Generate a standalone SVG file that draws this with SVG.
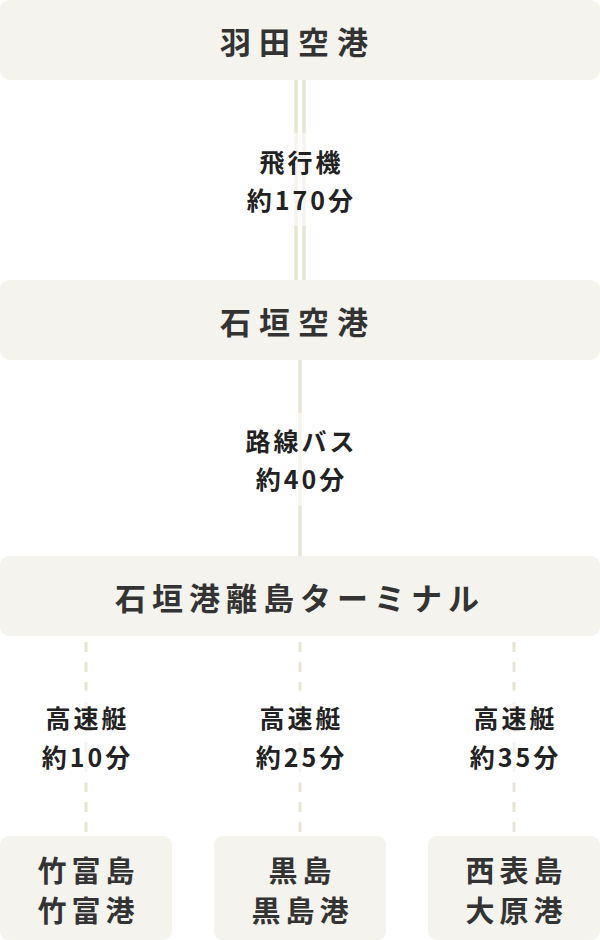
<svg xmlns="http://www.w3.org/2000/svg" width="600" height="940" viewBox="0 0 600 940">
<style>
.box{fill:#f4f3ee}
.t{font-family:"Noto Sans CJK JP","Noto Sans CJK SC",sans-serif;font-weight:700;fill:#333;text-anchor:middle;dominant-baseline:central}
.title{font-size:31px;letter-spacing:8px}
.term{letter-spacing:6px}
.lab{font-size:25px;letter-spacing:3px;fill:#222}
.dst{font-size:29px;letter-spacing:5px}
.ln{stroke:#e8e5d3;fill:none}
.band{fill:#fff;opacity:0.55}
</style>
<rect width="600" height="940" fill="#fff"/>
<g id="connectors">
<line class="ln" x1="296" y1="80" x2="296" y2="280" stroke-width="3.5"/>
<line class="ln" x1="304" y1="80" x2="304" y2="280" stroke-width="3.5"/>
<line class="ln" x1="300" y1="360" x2="300" y2="556" stroke-width="3.5"/>
<line class="ln" x1="86" y1="636" x2="86" y2="836" stroke-width="3" stroke-dasharray="10 10" stroke-dashoffset="-6"/>
<line class="ln" x1="300" y1="636" x2="300" y2="836" stroke-width="3" stroke-dasharray="10 10" stroke-dashoffset="-6"/>
<line class="ln" x1="514" y1="636" x2="514" y2="836" stroke-width="3" stroke-dasharray="10 10" stroke-dashoffset="-6"/>
<rect class="band" x="235" y="133" width="130" height="93"/>
<rect class="band" x="235" y="413" width="130" height="93"/>
<rect class="band" x="30" y="690" width="112" height="93"/>
<rect class="band" x="244" y="690" width="112" height="93"/>
<rect class="band" x="458" y="690" width="112" height="93"/>
<text class="t lab" x="301.5" y="161">飛行機</text>
<text class="t lab" x="301.5" y="199">約170分</text>
<text class="t lab" x="301.5" y="440">路線バス</text>
<text class="t lab" x="301.5" y="478">約40分</text>
<text class="t lab" x="87.5" y="717">高速艇</text>
<text class="t lab" x="87.5" y="756">約10分</text>
<text class="t lab" x="301.5" y="717">高速艇</text>
<text class="t lab" x="301.5" y="756">約25分</text>
<text class="t lab" x="515.5" y="717">高速艇</text>
<text class="t lab" x="515.5" y="756">約35分</text>
</g>
<g id="haneda">
<rect class="box" x="0" y="0" width="600" height="80" rx="9"/>
<text class="t title" x="298" y="40">羽田空港</text>
</g>
<g id="ishigaki-airport">
<rect class="box" x="0" y="280" width="600" height="80" rx="9"/>
<text class="t title" x="298" y="320">石垣空港</text>
</g>
<g id="terminal">
<rect class="box" x="0" y="556" width="600" height="80" rx="9"/>
<text class="t title term" x="300" y="596">石垣港離島ターミナル</text>
</g>
<g id="taketomi">
<rect class="box" x="0" y="836" width="172" height="104" rx="9"/>
<text class="t dst" x="88.5" y="869">竹富島</text>
<text class="t dst" x="88.5" y="909">竹富港</text>
</g>
<g id="kuroshima">
<rect class="box" x="214" y="836" width="172" height="104" rx="9"/>
<text class="t dst" x="302.5" y="869">黒島</text>
<text class="t dst" x="302.5" y="909">黒島港</text>
</g>
<g id="iriomote">
<rect class="box" x="428" y="836" width="172" height="104" rx="9"/>
<text class="t dst" x="516.5" y="869">西表島</text>
<text class="t dst" x="516.5" y="909">大原港</text>
</g>
</svg>
